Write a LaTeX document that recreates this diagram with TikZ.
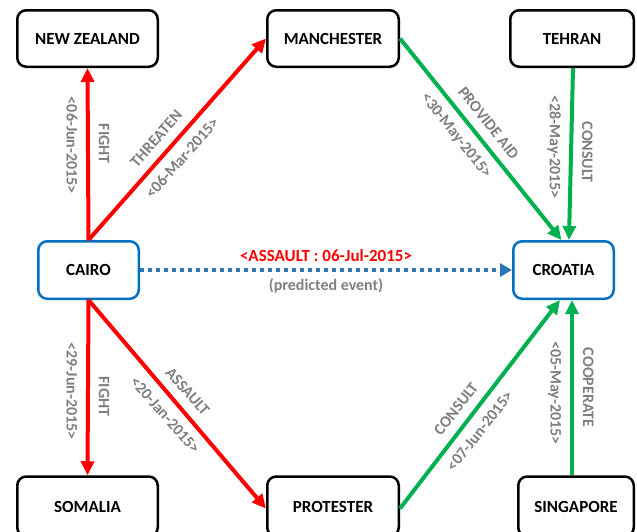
\documentclass[tikz,border=0pt]{standalone}
\usepackage{fontspec}
\setmainfont{Carlito}
\usetikzlibrary{arrows.meta,calc}
\definecolor{myred}{RGB}{255,0,0}
\definecolor{mygreen}{RGB}{0,176,80}
\definecolor{myblue}{RGB}{0,112,192}
\definecolor{dotblue}{RGB}{46,117,182}
\definecolor{labgray}{RGB}{127,127,127}
\begin{document}
\begin{tikzpicture}[x=1pt,y=-1pt,
  box/.style={draw=black, line width=2.5pt, rounded corners=9pt, fill=white,
    font=\bfseries\fontsize{17}{19}\selectfont, inner sep=0pt, minimum height=56.5pt},
  bluebox/.style={box, draw=myblue, minimum height=57.5pt},
  redarr/.style={draw=myred, line width=4pt, -{Triangle[length=14pt,width=13pt]}},
  greenarr/.style={draw=mygreen, line width=4pt, -{Triangle[length=14pt,width=13pt]}},
  lab/.style={font=\bfseries\fontsize{16}{18}\selectfont, text=labgray,
    inner xsep=0pt, inner ysep=9pt, text height=10.3pt, text depth=0pt},
  labup/.style={lab, anchor=south},
  labdn/.style={lab, anchor=north}
]
\useasboundingbox (0,0) rectangle (637,531);
% nodes
\node[box, minimum width=140.5pt] (nz) at (87.5,38.5) {NEW ZEALAND};
\node[box, minimum width=131.5pt] (man) at (333,38.5) {MANCHESTER};
\node[box, minimum width=123.5pt] (teh) at (572,38.5) {TEHRAN};
\node[bluebox, minimum width=100.5pt] (cairo) at (88.5,270) {CAIRO};
\node[bluebox, minimum width=100.5pt] (cro) at (563.5,270) {CROATIA};
\node[box, minimum width=140.5pt, minimum height=60pt] (som) at (87.5,506.5) {SOMALIA};
\node[box, minimum width=131.5pt, minimum height=60pt] (pro) at (333,506.5) {PROTESTER};
\node[box, minimum width=115.5pt, minimum height=60pt] (sin) at (576,506.5) {SINGAPORE};
% red edges
\draw[redarr] (cairo.north) --
  node[labup, rotate=-90, pos=0.56] {FIGHT}
  node[labdn, rotate=-90, pos=0.55] {<06-Jun-2015>} (nz.south);
\draw[redarr] (cairo.north) --
  node[labup, rotate=48.5, pos=0.45] {THREATEN}
  node[labdn, rotate=48.5, pos=0.46] {<06-Mar-2015>} (man.west);
\draw[redarr] (cairo.south) --
  node[labup, rotate=-90, pos=0.55] {FIGHT}
  node[labdn, rotate=-90, pos=0.52] {<29-Jun-2015>} (som.north);
\draw[redarr] (cairo.south) --
  node[labup, rotate=-48.6, pos=0.49] {ASSAULT}
  node[labdn, rotate=-48.6, pos=0.50] {<20-Jan-2015>} ([yshift=-2pt]pro.west);
% green edges
\draw[greenarr] (man.east) --
  node[labup, rotate=-51.6, pos=0.47] {PROVIDE AID}
  node[labdn, rotate=-51.6, pos=0.43] {<30-May-2015>} ([xshift=-2pt]cro.north);
\draw[greenarr] ([xshift=1pt]teh.south) --
  node[labup, rotate=-90, pos=0.49] {CONSULT}
  node[labdn, rotate=-90, pos=0.46] {<28-May-2015>} ([xshift=5.5pt]cro.north);
\draw[greenarr] ([yshift=-2pt]pro.east) --
  node[labup, rotate=51.8, pos=0.43] {CONSULT}
  node[labdn, rotate=51.8, pos=0.42] {<07-Jun-2015>} ([xshift=-3.5pt]cro.south);
\draw[greenarr] ([xshift=-4pt]sin.north) --
  node[labup, rotate=-90, pos=0.50] {COOPERATE}
  node[labdn, rotate=-90, pos=0.47] {<05-May-2015>} ([xshift=8.5pt]cro.south);
% predicted event
\draw[draw=dotblue, line width=4pt, dash pattern=on 4pt off 4pt,
  -{Triangle[length=12pt,width=13pt]}] (cairo.east) --
  node[above=3pt, font=\bfseries\fontsize{17}{19}\selectfont, text=myred] {<ASSAULT : 06-Jul-2015>}
  node[below=3pt, font=\bfseries\fontsize{16}{18}\selectfont, text=labgray] {(predicted event)} (cro.west);
\end{tikzpicture}
\end{document}
